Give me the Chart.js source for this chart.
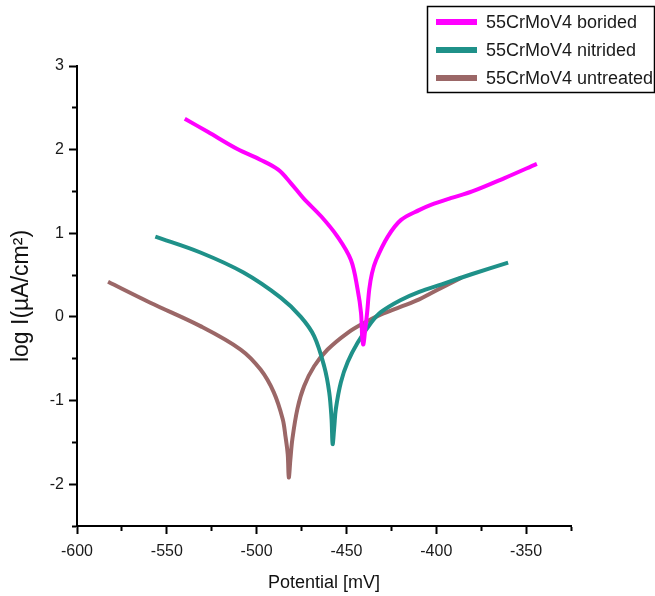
<!DOCTYPE html>
<html>
<head>
<meta charset="utf-8">
<script src="https://cdn.jsdelivr.net/npm/chart.js@4/dist/chart.umd.min.js"></script>
<style>
html,body{margin:0;padding:0;background:#fff;}
#c{display:block;}
</style>
</head>
<body>
<canvas id="c" width="655" height="596"></canvas>
<script>
// ---- data ----
const seriesLabels = ['55CrMoV4 borided', '55CrMoV4 nitrided', '55CrMoV4 untreated'];

const boridedX = [-540, -527, -511, -498, -488, -481, -474, -464, -455, -447.5, -443.8, -441.9, -441.2, -440.6, -439.8, -438.5, -437.3, -435.8, -433.5, -427, -419.6, -409.3, -403, -392, -380, -362, -344];
const boridedY = [2.37, 2.21, 2.01, 1.88, 1.76, 1.60, 1.42, 1.20, 0.96, 0.68, 0.33, 0.05, -0.25, -0.33, -0.20, 0.05, 0.33, 0.52, 0.68, 0.96, 1.16, 1.28, 1.34, 1.42, 1.50, 1.66, 1.83];

const nitridedX = [-556.4, -531.3, -507.3, -486.6, -475.4, -468, -462.4, -459.6, -458.3, -457.7, -456.8, -455.9, -453.1, -449.3, -443.8, -436.3, -430.7, -420, -409.5, -397, -380.4, -360];
const nitridedY = [0.96, 0.77, 0.53, 0.23, 0.0, -0.23, -0.59, -0.90, -1.22, -1.52, -1.32, -1.10, -0.78, -0.54, -0.31, -0.07, 0.06, 0.20, 0.30, 0.39, 0.51, 0.65];

const untreatedX = [-582.7, -559.2, -531.3, -508.9, -497.8, -490.5, -485.5, -484.0, -482.7, -482.1, -481.2, -480.1, -477.3, -473.6, -468, -460.5, -449.3, -440, -430.7, -420, -409.5, -397, -386];
const untreatedY = [0.42, 0.17, -0.11, -0.39, -0.63, -0.90, -1.22, -1.42, -1.64, -1.92, -1.70, -1.46, -1.10, -0.83, -0.59, -0.39, -0.19, -0.07, 0.03, 0.12, 0.21, 0.35, 0.47];

const seriesColors = ['#ff00ff', '#1f9189', '#9b6767'];

const xMin = -600, xMax = -325, xStep = 25, xLabelEvery = 50;
const yMin = -2.5, yMax = 3, yStep = 0.5;

const xTitle = 'Potential [mV]';
const yTitle = 'log I(\u00b5A/cm\u00b2)';

// ---- build chart ----
function pts(xs, ys){ return xs.map((x,i)=>({x:x, y:ys[i]})); }

Chart.defaults.font.family = "'Liberation Sans', Arial, sans-serif";
Chart.defaults.color = '#1a1a1a';

const isMajorX = v => Math.abs(v % xLabelEvery) < 1e-6;
const isMajorY = v => Math.abs(v - Math.round(v)) < 1e-6;

const legendBox = {
  id: 'legendBox',
  afterDraw(chart){
    const ctx = chart.ctx;
    ctx.save();
    ctx.strokeStyle = '#000';
    ctx.lineWidth = 1.5;
    ctx.strokeRect(427.5, 6.5, 227, 86);
    ctx.font = "18px 'Liberation Sans', Arial, sans-serif";
    ctx.textBaseline = 'middle';
    ctx.textAlign = 'left';
    chart.data.datasets.forEach((ds, i) => {
      const y = 22 + i * 28;
      ctx.strokeStyle = ds.borderColor;
      ctx.lineWidth = 6;
      ctx.beginPath();
      ctx.moveTo(436, y);
      ctx.lineTo(477, y);
      ctx.stroke();
      ctx.fillStyle = '#1a1a1a';
      ctx.fillText(ds.label, 486, y + 1);
    });
    ctx.restore();
  }
};

const allX = [boridedX, nitridedX, untreatedX];
const allY = [boridedY, nitridedY, untreatedY];

new Chart(document.getElementById('c'), {
  type: 'scatter',
  data: {
    datasets: seriesLabels.map((lab, i) => ({
      label: lab,
      data: pts(allX[i], allY[i]),
      showLine: true,
      borderColor: seriesColors[i],
      backgroundColor: seriesColors[i],
      borderWidth: 4,
      pointRadius: 0,
      tension: 0.35,
      borderJoinStyle: 'round'
    }))
  },
  options: {
    responsive: false,
    animation: false,
    layout: { padding: { left: 0, top: 66, right: 84, bottom: 0 } },
    plugins: { legend: { display: false }, tooltip: { enabled: false } },
    scales: {
      x: {
        type: 'linear', position: 'bottom', min: xMin, max: xMax,
        afterFit(s){ s.height = 70; },
        ticks: {
          stepSize: xStep, autoSkip: false, maxRotation: 0, padding: 8,
          font: { size: 16 }, color: '#1a1a1a',
          callback: v => isMajorX(v) ? String(v) : ''
        },
        grid: {
          drawOnChartArea: false, drawTicks: true, tickLength: 8,
          tickColor: '#000', tickWidth: 2,
          tickBorderDash: c => isMajorX(c.tick.value) ? [] : [4, 10],
          tickBorderDashOffset: 0
        },
        border: { color: '#000', width: 2 },
        title: { display: true, text: xTitle, font: { size: 18 }, color: '#111', padding: { top: 0, bottom: 2 } }
      },
      y: {
        type: 'linear', position: 'left', min: yMin, max: yMax,
        afterFit(s){ s.width = 77; },
        ticks: {
          stepSize: yStep, autoSkip: false, padding: 5,
          font: { size: 16 }, color: '#1a1a1a',
          callback: v => isMajorY(v) ? String(Math.round(v)) : ''
        },
        grid: {
          drawOnChartArea: false, drawTicks: true, tickLength: 8,
          tickColor: '#000', tickWidth: 2,
          tickBorderDash: c => isMajorY(c.tick.value) ? [] : [4, 3],
          tickBorderDashOffset: c => isMajorY(c.tick.value) ? 0 : 4
        },
        border: { color: '#000', width: 2 },
        title: { display: true, text: yTitle, font: { size: 23 }, color: '#111', padding: { top: 8, bottom: 0 } }
      }
    }
  },
  plugins: [legendBox]
});
</script>
</body>
</html>
